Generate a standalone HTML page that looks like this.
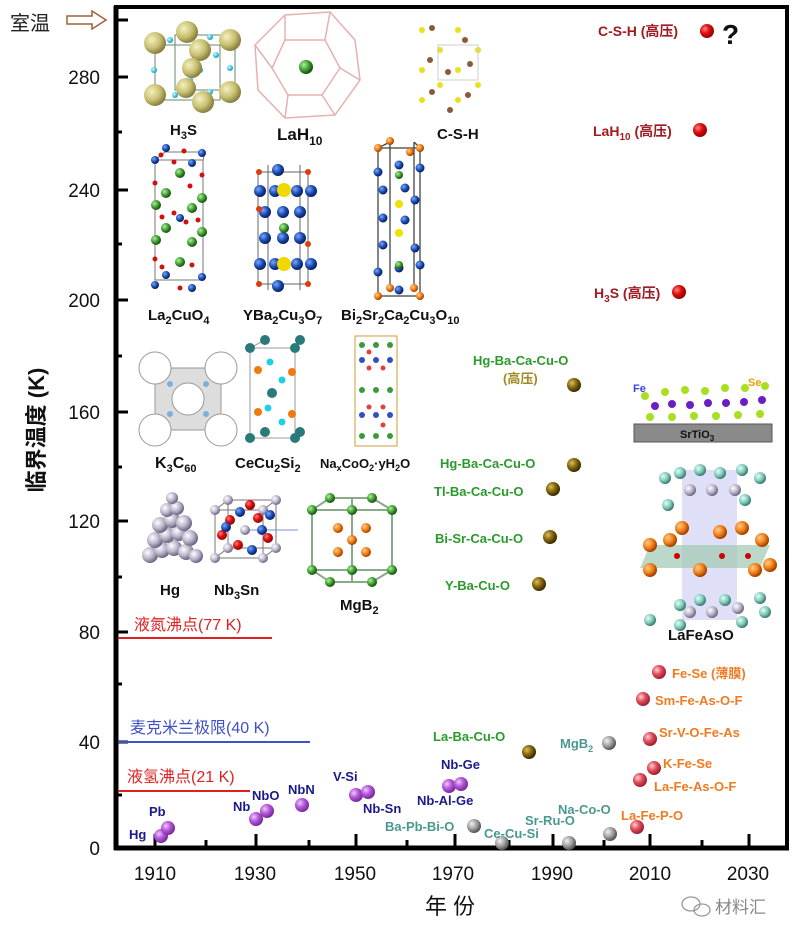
<!DOCTYPE html>
<html><head><meta charset="utf-8"><style>
html,body{margin:0;padding:0;background:#fff;width:800px;height:937px;overflow:hidden}
svg{display:block}
text{font-family:"Liberation Sans","Noto Sans CJK SC",sans-serif}
.b{font-weight:bold}
</style></head><body>
<svg width="800" height="937" viewBox="0 0 800 937" xmlns="http://www.w3.org/2000/svg">
<defs>
<radialGradient id="pu" cx="35%" cy="35%" r="65%"><stop offset="0" stop-color="#f0c8ff"/><stop offset="0.5" stop-color="#b55ad8"/><stop offset="1" stop-color="#7a2aa0"/></radialGradient>
<radialGradient id="go" cx="35%" cy="35%" r="65%"><stop offset="0" stop-color="#d9c060"/><stop offset="0.5" stop-color="#8a6a10"/><stop offset="1" stop-color="#3a2a00"/></radialGradient>
<radialGradient id="gr" cx="35%" cy="35%" r="65%"><stop offset="0" stop-color="#f2f2f2"/><stop offset="0.6" stop-color="#9a9a9a"/><stop offset="1" stop-color="#555"/></radialGradient>
<radialGradient id="pk" cx="35%" cy="35%" r="65%"><stop offset="0" stop-color="#ffd0d0"/><stop offset="0.5" stop-color="#e05060"/><stop offset="1" stop-color="#a02030"/></radialGradient>
<radialGradient id="rd" cx="35%" cy="35%" r="65%"><stop offset="0" stop-color="#ff8080"/><stop offset="0.5" stop-color="#dd1010"/><stop offset="1" stop-color="#900"/></radialGradient>
<radialGradient id="ye" cx="35%" cy="35%" r="65%"><stop offset="0" stop-color="#f4f0c0"/><stop offset="0.6" stop-color="#c8c070"/><stop offset="1" stop-color="#8a8040"/></radialGradient>
<radialGradient id="bl" cx="35%" cy="35%" r="65%"><stop offset="0" stop-color="#7aa8ff"/><stop offset="0.6" stop-color="#1a4ab0"/><stop offset="1" stop-color="#0a2060"/></radialGradient>
<radialGradient id="gn" cx="35%" cy="35%" r="65%"><stop offset="0" stop-color="#b0f0a0"/><stop offset="0.6" stop-color="#3a9a2a"/><stop offset="1" stop-color="#1a5010"/></radialGradient>
<radialGradient id="or" cx="35%" cy="35%" r="65%"><stop offset="0" stop-color="#ffd090"/><stop offset="0.6" stop-color="#f07a10"/><stop offset="1" stop-color="#a04000"/></radialGradient>
<radialGradient id="tl" cx="35%" cy="35%" r="65%"><stop offset="0" stop-color="#e0fff8"/><stop offset="0.6" stop-color="#80c8b8"/><stop offset="1" stop-color="#3a7a70"/></radialGradient>
<radialGradient id="cy" cx="35%" cy="35%" r="65%"><stop offset="0" stop-color="#c0ffff"/><stop offset="1" stop-color="#10a0c8"/></radialGradient>
<radialGradient id="sv" cx="35%" cy="35%" r="65%"><stop offset="0" stop-color="#ffffff"/><stop offset="0.6" stop-color="#b8b0c8"/><stop offset="1" stop-color="#706880"/></radialGradient>
</defs>

<!-- frame -->
<line x1="116" y1="6" x2="116" y2="850" stroke="#000" stroke-width="5"/>
<line x1="114" y1="848" x2="789" y2="848" stroke="#000" stroke-width="5"/>
<line x1="114" y1="7" x2="789" y2="7" stroke="#000" stroke-width="4"/>
<line x1="787" y1="6" x2="787" y2="850" stroke="#000" stroke-width="4"/>

<!-- y ticks -->
<g stroke="#000" stroke-width="3">
<line x1="116" y1="20" x2="128" y2="20"/><line x1="116" y1="77" x2="128" y2="77"/><line x1="116" y1="132" x2="122" y2="132"/>
<line x1="116" y1="190" x2="128" y2="190"/><line x1="116" y1="244" x2="122" y2="244"/><line x1="116" y1="300" x2="128" y2="300"/>
<line x1="116" y1="356" x2="122" y2="356"/><line x1="116" y1="412" x2="128" y2="412"/><line x1="116" y1="467" x2="122" y2="467"/>
<line x1="116" y1="521" x2="128" y2="521"/><line x1="116" y1="577" x2="122" y2="577"/><line x1="116" y1="632" x2="128" y2="632"/>
<line x1="116" y1="684" x2="122" y2="684"/><line x1="116" y1="742" x2="128" y2="742"/><line x1="116" y1="795" x2="122" y2="795"/>
<!-- x ticks -->
<line x1="155" y1="848" x2="155" y2="834"/><line x1="206" y1="848" x2="206" y2="840"/><line x1="256" y1="848" x2="256" y2="834"/>
<line x1="309" y1="848" x2="309" y2="840"/><line x1="356" y1="848" x2="356" y2="834"/><line x1="407" y1="848" x2="407" y2="840"/>
<line x1="455" y1="848" x2="455" y2="834"/><line x1="509" y1="848" x2="509" y2="840"/><line x1="553" y1="848" x2="553" y2="834"/>
<line x1="604" y1="848" x2="604" y2="840"/><line x1="650" y1="848" x2="650" y2="834"/><line x1="702" y1="848" x2="702" y2="840"/>
<line x1="749" y1="848" x2="749" y2="834"/>
</g>
<g font-size="19" fill="#111" text-anchor="end">
<text x="100" y="84">280</text><text x="100" y="197">240</text><text x="100" y="307">200</text>
<text x="100" y="419">160</text><text x="100" y="528">120</text><text x="100" y="639">80</text>
<text x="100" y="749">40</text><text x="100" y="855">0</text>
</g>
<g font-size="19" fill="#111" text-anchor="middle">
<text x="155" y="880">1910</text><text x="255" y="880">1930</text><text x="355" y="880">1950</text>
<text x="453" y="880">1970</text><text x="552" y="880">1990</text><text x="650" y="880">2010</text><text x="748" y="880">2030</text>
</g>
<text x="450" y="914" font-size="22" text-anchor="middle" fill="#111">年 份</text>
<text transform="translate(44,430) rotate(-90)" font-size="22" text-anchor="middle" fill="#111" class="b">临界温度 (K)</text>
<text x="10" y="30" font-size="20" fill="#222">室温</text>
<path d="M67 16 H92 V11 L106 20 L92 29 V24 H67 Z" fill="none" stroke="#a0603a" stroke-width="1.5"/>

<!-- reference lines -->
<line x1="118" y1="638" x2="272" y2="638" stroke="#e02020" stroke-width="2"/>
<text x="134" y="630" font-size="16" fill="#e02020">液氮沸点(77 K)</text>
<line x1="118" y1="742" x2="310" y2="742" stroke="#4050c8" stroke-width="2"/>
<text x="130" y="733" font-size="16" fill="#4050c8">麦克米兰极限(40 K)</text>
<line x1="118" y1="791" x2="250" y2="791" stroke="#e02020" stroke-width="2"/>
<text x="127" y="782" font-size="16" fill="#e02020">液氢沸点(21 K)</text>

<!-- points -->
<g>
<circle cx="161" cy="836" r="7" fill="url(#pu)"/><circle cx="168" cy="828" r="7" fill="url(#pu)"/>
<circle cx="256" cy="819" r="7" fill="url(#pu)"/><circle cx="267" cy="811" r="7" fill="url(#pu)"/>
<circle cx="302" cy="805" r="7" fill="url(#pu)"/>
<circle cx="356" cy="795" r="7" fill="url(#pu)"/><circle cx="368" cy="792" r="7" fill="url(#pu)"/>
<circle cx="449" cy="786" r="7" fill="url(#pu)"/><circle cx="461" cy="784" r="7" fill="url(#pu)"/>
<circle cx="474" cy="826" r="7" fill="url(#gr)"/><circle cx="502" cy="843" r="7" fill="url(#gr)"/>
<circle cx="569" cy="843" r="7" fill="url(#gr)"/><circle cx="610" cy="834" r="7" fill="url(#gr)"/>
<circle cx="609" cy="743" r="7" fill="url(#gr)"/>
<circle cx="529" cy="752" r="7" fill="url(#go)"/>
<circle cx="539" cy="584" r="7" fill="url(#go)"/><circle cx="550" cy="537" r="7" fill="url(#go)"/>
<circle cx="553" cy="489" r="7" fill="url(#go)"/><circle cx="574" cy="465" r="7" fill="url(#go)"/>
<circle cx="574" cy="385" r="7" fill="url(#go)"/>
<circle cx="637" cy="827" r="7" fill="url(#pk)"/><circle cx="640" cy="780" r="7" fill="url(#pk)"/>
<circle cx="654" cy="768" r="7" fill="url(#pk)"/><circle cx="650" cy="739" r="7" fill="url(#pk)"/>
<circle cx="643" cy="699" r="7" fill="url(#pk)"/><circle cx="659" cy="672" r="7" fill="url(#pk)"/>
<circle cx="679" cy="292" r="7" fill="url(#rd)"/><circle cx="700" cy="130" r="7" fill="url(#rd)"/>
<circle cx="707" cy="31" r="7" fill="url(#rd)"/>
</g>

<!-- point labels -->
<g font-size="13" class="b" fill="#1a1a8a">
<text x="129" y="839">Hg</text><text x="149" y="816">Pb</text>
<text x="233" y="811">Nb</text><text x="252" y="800">NbO</text><text x="288" y="794">NbN</text>
<text x="333" y="781">V-Si</text><text x="363" y="813">Nb-Sn</text>
<text x="441" y="769">Nb-Ge</text><text x="417" y="805">Nb-Al-Ge</text>
</g>
<g font-size="13" class="b" fill="#4a9890">
<text x="385" y="831">Ba-Pb-Bi-O</text><text x="484" y="838">Ce-Cu-Si</text>
<text x="525" y="825">Sr-Ru-O</text><text x="558" y="814">Na-Co-O</text>
<text x="560" y="748">MgB<tspan font-size="9" dy="4">2</tspan></text>
</g>
<g font-size="13" class="b" fill="#2a9a2a">
<text x="433" y="741">La-Ba-Cu-O</text>
<text x="445" y="590">Y-Ba-Cu-O</text><text x="435" y="543">Bi-Sr-Ca-Cu-O</text>
<text x="434" y="496">Tl-Ba-Ca-Cu-O</text><text x="440" y="468">Hg-Ba-Ca-Cu-O</text>
<text x="473" y="365">Hg-Ba-Ca-Cu-O</text>
</g>
<text x="503" y="383" font-size="13" class="b" fill="#a08a20">(高压)</text>
<g font-size="13" class="b" fill="#f07a20">
<text x="621" y="820">La-Fe-P-O</text><text x="654" y="791">La-Fe-As-O-F</text>
<text x="663" y="768">K-Fe-Se</text><text x="659" y="737">Sr-V-O-Fe-As</text>
<text x="655" y="705">Sm-Fe-As-O-F</text><text x="672" y="678">Fe-Se (薄膜)</text>
</g>
<g font-size="14" class="b" fill="#a01a20">
<text x="594" y="298">H<tspan font-size="10" dy="4">3</tspan><tspan dy="-4">S (高压)</tspan></text>
<text x="593" y="136">LaH<tspan font-size="10" dy="4">10</tspan><tspan dy="-4"> (高压)</tspan></text>
<text x="598" y="36">C-S-H (高压)</text>
</g>
<text x="722" y="44" font-size="28" class="b" fill="#111">?</text>

<!-- H3S structure -->
<g stroke="#6a8a6a" stroke-width="1" fill="none"><rect x="155" y="45" width="65" height="55"/><rect x="175" y="35" width="60" height="55"/></g>
<g fill="url(#cy)">
<circle cx="170" cy="40" r="3"/><circle cx="210" cy="37" r="3"/><circle cx="154" cy="70" r="3"/><circle cx="186" cy="65" r="3"/><circle cx="200" cy="70" r="3"/><circle cx="230" cy="68" r="3"/><circle cx="175" cy="95" r="3"/><circle cx="210" cy="92" r="3"/><circle cx="190" cy="80" r="3"/><circle cx="216" cy="55" r="3"/>
</g>
<g fill="url(#ye)">
<circle cx="155" cy="43" r="11"/><circle cx="187" cy="32" r="11"/><circle cx="230" cy="40" r="11"/><circle cx="200" cy="50" r="11"/><circle cx="192" cy="68" r="10"/><circle cx="155" cy="95" r="11"/><circle cx="186" cy="88" r="10"/><circle cx="230" cy="92" r="11"/><circle cx="203" cy="102" r="11"/>
</g>
<text x="170" y="135" font-size="15" class="b" fill="#111">H<tspan font-size="11" dy="4">3</tspan><tspan dy="-4">S</tspan></text>

<!-- LaH10 -->
<g stroke="#e8b0b0" stroke-width="1.5" fill="none">
<polygon points="285,15 330,12 355,40 360,80 335,115 285,118 258,90 255,45"/>
<polygon points="285,40 325,40 340,68 322,95 288,95 272,68"/>
<line x1="285" y1="15" x2="285" y2="40"/><line x1="330" y1="12" x2="325" y2="40"/><line x1="360" y1="80" x2="340" y2="68"/><line x1="255" y1="45" x2="272" y2="68"/><line x1="285" y1="118" x2="288" y2="95"/><line x1="335" y1="115" x2="322" y2="95"/>
</g>
<circle cx="306" cy="67" r="7" fill="url(#gn)"/>
<text x="277" y="140" font-size="17" class="b" fill="#111">LaH<tspan font-size="12" dy="5">10</tspan></text>

<!-- C-S-H -->
<g fill="#e8e020"><circle cx="422" cy="30" r="3"/><circle cx="440" cy="50" r="3"/><circle cx="458" cy="30" r="3"/><circle cx="478" cy="50" r="3"/><circle cx="422" cy="70" r="3"/><circle cx="440" cy="85" r="3"/><circle cx="458" cy="70" r="3"/><circle cx="478" cy="85" r="3"/><circle cx="422" cy="100" r="3"/><circle cx="458" cy="100" r="3"/></g>
<g fill="#8a5a3a"><circle cx="432" cy="28" r="3"/><circle cx="465" cy="40" r="3"/><circle cx="430" cy="60" r="3"/><circle cx="470" cy="64" r="3"/><circle cx="448" cy="72" r="3"/><circle cx="432" cy="92" r="3"/><circle cx="468" cy="95" r="3"/><circle cx="450" cy="110" r="3"/></g>
<rect x="438" y="45" width="40" height="35" fill="none" stroke="#ccc"/>
<text x="437" y="139" font-size="15" class="b" fill="#111">C-S-H</text>

<!-- La2CuO4 -->
<g stroke="#777" fill="none"><rect x="155" y="160" width="48" height="120"/><line x1="155" y1="160" x2="165" y2="152"/><line x1="203" y1="160" x2="205" y2="152"/><line x1="165" y1="152" x2="205" y2="152"/></g>
<g fill="url(#bl)"><circle cx="155" cy="160" r="4"/><circle cx="192" cy="163" r="4"/><circle cx="166" cy="148" r="4"/><circle cx="202" cy="153" r="4"/><circle cx="180" cy="218" r="4"/><circle cx="155" cy="285" r="4"/><circle cx="192" cy="288" r="4"/><circle cx="166" cy="275" r="4"/><circle cx="202" cy="277" r="4"/></g>
<g fill="url(#gn)"><circle cx="180" cy="173" r="5"/><circle cx="166" cy="193" r="5"/><circle cx="202" cy="198" r="5"/><circle cx="156" cy="205" r="5"/><circle cx="192" cy="208" r="5"/><circle cx="166" cy="228" r="5"/><circle cx="202" cy="232" r="5"/><circle cx="156" cy="240" r="5"/><circle cx="192" cy="242" r="5"/><circle cx="180" cy="262" r="5"/></g>
<g fill="#d01010"><circle cx="161" cy="155" r="2.5"/><circle cx="184" cy="151" r="2.5"/><circle cx="174" cy="162" r="2.5"/><circle cx="202" cy="175" r="2.5"/><circle cx="155" cy="183" r="2.5"/><circle cx="190" cy="186" r="2.5"/><circle cx="174" cy="213" r="2.5"/><circle cx="186" cy="222" r="2.5"/><circle cx="198" cy="220" r="2.5"/><circle cx="162" cy="217" r="2.5"/><circle cx="155" cy="259" r="2.5"/><circle cx="192" cy="265" r="2.5"/><circle cx="162" cy="267" r="2.5"/><circle cx="180" cy="288" r="2.5"/></g>
<text x="148" y="320" font-size="15" class="b" fill="#111">La<tspan font-size="11" dy="4">2</tspan><tspan dy="-4">CuO</tspan><tspan font-size="11" dy="4">4</tspan></text>

<!-- YBCO -->
<g stroke="#666" fill="none"><rect x="258" y="172" width="50" height="112"/><line x1="268" y1="165" x2="268" y2="290"/><line x1="300" y1="165" x2="300" y2="290"/></g>
<g fill="url(#bl)">
<circle cx="260" cy="191" r="6"/><circle cx="275" cy="191" r="6"/><circle cx="297" cy="191" r="6"/><circle cx="311" cy="191" r="6"/><circle cx="278" cy="170" r="6"/>
<circle cx="265" cy="212" r="6"/><circle cx="283" cy="212" r="6"/><circle cx="300" cy="212" r="6"/>
<circle cx="265" cy="238" r="6"/><circle cx="283" cy="238" r="6"/><circle cx="300" cy="238" r="6"/>
<circle cx="260" cy="264" r="6"/><circle cx="275" cy="264" r="6"/><circle cx="297" cy="264" r="6"/><circle cx="311" cy="264" r="6"/><circle cx="278" cy="286" r="6"/>
</g>
<circle cx="284" cy="190" r="7" fill="url(#ye)" style="fill:#f0d800"/><circle cx="284" cy="264" r="7" fill="#f0d800"/><circle cx="284" cy="228" r="5" fill="url(#gn)"/>
<g fill="#e03a10"><circle cx="259" cy="172" r="3"/><circle cx="308" cy="172" r="3"/><circle cx="259" cy="284" r="3"/><circle cx="308" cy="284" r="3"/><circle cx="259" cy="209" r="3"/><circle cx="308" cy="244" r="3"/></g>
<text x="243" y="320" font-size="15" class="b" fill="#111">YBa<tspan font-size="11" dy="4">2</tspan><tspan dy="-4">Cu</tspan><tspan font-size="11" dy="4">3</tspan><tspan dy="-4">O</tspan><tspan font-size="11" dy="4">7</tspan></text>

<!-- Bi2212 -->
<g stroke="#444" stroke-width="1.3" fill="none"><rect x="378" y="148" width="42" height="148"/><line x1="390" y1="142" x2="390" y2="290"/><line x1="414" y1="142" x2="414" y2="290"/><line x1="378" y1="148" x2="390" y2="142"/><line x1="420" y1="148" x2="414" y2="142"/></g>
<g fill="url(#bl)"><circle cx="378" cy="172" r="4.5"/><circle cx="399" cy="165" r="4.5"/><circle cx="420" cy="168" r="4.5"/><circle cx="383" cy="190" r="4.5"/><circle cx="405" cy="188" r="4.5"/><circle cx="415" cy="200" r="4.5"/><circle cx="383" cy="218" r="4.5"/><circle cx="405" cy="220" r="4.5"/><circle cx="383" cy="245" r="4.5"/><circle cx="415" cy="248" r="4.5"/><circle cx="378" cy="272" r="4.5"/><circle cx="399" cy="268" r="4.5"/><circle cx="420" cy="265" r="4.5"/><circle cx="399" cy="290" r="4.5"/></g>
<g fill="url(#or)"><circle cx="378" cy="148" r="4"/><circle cx="390" cy="141" r="4"/><circle cx="420" cy="148" r="4"/><circle cx="410" cy="152" r="4"/><circle cx="378" cy="296" r="4"/><circle cx="420" cy="296" r="4"/><circle cx="390" cy="288" r="4"/><circle cx="414" cy="288" r="4"/></g>
<circle cx="399" cy="175" r="4" fill="url(#gn)"/><circle cx="399" cy="204" r="4" fill="#f0e000"/><circle cx="399" cy="233" r="4" fill="#f0e000"/><circle cx="399" cy="265" r="4" fill="url(#gn)"/>
<text x="341" y="320" font-size="15" class="b" fill="#111">Bi<tspan font-size="11" dy="4">2</tspan><tspan dy="-4">Sr</tspan><tspan font-size="11" dy="4">2</tspan><tspan dy="-4">Ca</tspan><tspan font-size="11" dy="4">2</tspan><tspan dy="-4">Cu</tspan><tspan font-size="11" dy="4">3</tspan><tspan dy="-4">O</tspan><tspan font-size="11" dy="4">10</tspan></text>

<!-- K3C60 -->
<rect x="155" y="368" width="66" height="62" fill="#ddd" stroke="#999"/>
<g fill="#fff" stroke="#999"><circle cx="155" cy="368" r="16"/><circle cx="221" cy="368" r="16"/><circle cx="155" cy="430" r="16"/><circle cx="221" cy="430" r="16"/><circle cx="188" cy="399" r="16"/></g>
<g fill="#7ab0e0"><circle cx="170" cy="384" r="3"/><circle cx="206" cy="384" r="3"/><circle cx="170" cy="414" r="3"/><circle cx="206" cy="414" r="3"/></g>
<text x="155" y="468" font-size="16" class="b" fill="#111">K<tspan font-size="11" dy="4">3</tspan><tspan dy="-4">C</tspan><tspan font-size="11" dy="4">60</tspan></text>

<!-- CeCu2Si2 -->
<g stroke="#999" fill="none"><rect x="250" y="348" width="45" height="90"/><line x1="250" y1="348" x2="265" y2="340"/><line x1="295" y1="348" x2="300" y2="340"/></g>
<g fill="#2a7a7a"><circle cx="250" cy="348" r="5"/><circle cx="295" cy="348" r="5"/><circle cx="265" cy="340" r="5"/><circle cx="300" cy="340" r="5"/><circle cx="272" cy="393" r="5"/><circle cx="250" cy="438" r="5"/><circle cx="295" cy="438" r="5"/><circle cx="265" cy="432" r="5"/><circle cx="300" cy="432" r="5"/></g>
<g fill="#f07a10"><circle cx="258" cy="370" r="4"/><circle cx="292" cy="372" r="4"/><circle cx="258" cy="412" r="4"/><circle cx="292" cy="414" r="4"/></g>
<g fill="#20d0e0"><circle cx="270" cy="362" r="3.5"/><circle cx="282" cy="380" r="3.5"/><circle cx="268" cy="408" r="3.5"/><circle cx="282" cy="422" r="3.5"/></g>
<text x="235" y="468" font-size="15" class="b" fill="#111">CeCu<tspan font-size="11" dy="4">2</tspan><tspan dy="-4">Si</tspan><tspan font-size="11" dy="4">2</tspan></text>

<!-- NaxCoO2 -->
<g stroke="#c8a030" fill="none"><rect x="355" y="336" width="42" height="110"/></g>
<g fill="#3a9a3a"><circle cx="362" cy="345" r="3"/><circle cx="376" cy="345" r="3"/><circle cx="390" cy="345" r="3"/><circle cx="362" cy="390" r="3"/><circle cx="376" cy="390" r="3"/><circle cx="390" cy="390" r="3"/><circle cx="362" cy="436" r="3"/><circle cx="376" cy="436" r="3"/><circle cx="390" cy="436" r="3"/></g>
<g fill="#3050c0"><circle cx="362" cy="360" r="3"/><circle cx="376" cy="360" r="3"/><circle cx="390" cy="360" r="3"/><circle cx="362" cy="415" r="3"/><circle cx="376" cy="415" r="3"/><circle cx="390" cy="415" r="3"/></g>
<g fill="#e04040"><circle cx="369" cy="368" r="2.5"/><circle cx="383" cy="368" r="2.5"/><circle cx="369" cy="407" r="2.5"/><circle cx="383" cy="407" r="2.5"/><circle cx="369" cy="352" r="2.5"/><circle cx="383" cy="425" r="2.5"/></g>
<text x="320" y="468" font-size="13" class="b" fill="#111">Na<tspan font-size="9" dy="3">x</tspan><tspan dy="-3">CoO</tspan><tspan font-size="9" dy="3">2</tspan><tspan dy="-3">·yH</tspan><tspan font-size="9" dy="3">2</tspan><tspan dy="-3">O</tspan></text>

<!-- Hg -->
<g fill="url(#sv)">
<circle cx="150" cy="555" r="8"/><circle cx="162" cy="550" r="8"/><circle cx="174" cy="548" r="8"/><circle cx="186" cy="552" r="8"/><circle cx="196" cy="556" r="7"/>
<circle cx="155" cy="540" r="8"/><circle cx="167" cy="535" r="8"/><circle cx="179" cy="533" r="8"/><circle cx="190" cy="538" r="8"/>
<circle cx="160" cy="525" r="8"/><circle cx="172" cy="520" r="8"/><circle cx="184" cy="523" r="8"/>
<circle cx="167" cy="510" r="7"/><circle cx="177" cy="508" r="7"/><circle cx="172" cy="498" r="6"/>
</g>
<text x="160" y="595" font-size="15" class="b" fill="#111">Hg</text>

<!-- Nb3Sn -->
<g stroke="#777" fill="none"><rect x="215" y="510" width="48" height="48"/><rect x="228" y="500" width="48" height="48"/><line x1="215" y1="510" x2="228" y2="500"/><line x1="263" y1="510" x2="276" y2="500"/><line x1="215" y1="558" x2="228" y2="548"/><line x1="263" y1="558" x2="276" y2="548"/><line x1="240" y1="530" x2="298" y2="530" stroke="#7a90d0"/></g>
<g fill="url(#sv)"><circle cx="215" cy="510" r="5"/><circle cx="263" cy="510" r="5"/><circle cx="228" cy="500" r="5"/><circle cx="276" cy="500" r="5"/><circle cx="215" cy="558" r="5"/><circle cx="263" cy="558" r="5"/><circle cx="228" cy="548" r="5"/><circle cx="276" cy="548" r="5"/><circle cx="245" cy="530" r="5"/></g>
<g fill="url(#rd)"><circle cx="230" cy="520" r="5"/><circle cx="258" cy="518" r="5"/><circle cx="238" cy="545" r="5"/><circle cx="268" cy="538" r="5"/><circle cx="222" cy="535" r="5"/><circle cx="250" cy="505" r="5"/></g>
<g fill="url(#bl)"><circle cx="240" cy="512" r="5"/><circle cx="262" cy="530" r="5"/><circle cx="226" cy="527" r="5"/><circle cx="252" cy="550" r="5"/><circle cx="270" cy="515" r="5"/></g>
<text x="214" y="595" font-size="15" class="b" fill="#111">Nb<tspan font-size="11" dy="4">3</tspan><tspan dy="-4">Sn</tspan></text>

<!-- MgB2 -->
<g stroke="#8aa88a" stroke-width="2" fill="none">
<polygon points="312,510 330,498 372,498 392,510 392,570 372,582 330,582 312,570"/>
<line x1="312" y1="510" x2="392" y2="510"/><line x1="312" y1="570" x2="392" y2="570"/><line x1="352" y1="498" x2="352" y2="582"/>
</g>
<g fill="url(#gn)"><circle cx="312" cy="510" r="5"/><circle cx="330" cy="498" r="5"/><circle cx="372" cy="498" r="5"/><circle cx="392" cy="510" r="5"/><circle cx="312" cy="570" r="5"/><circle cx="330" cy="582" r="5"/><circle cx="372" cy="582" r="5"/><circle cx="392" cy="570" r="5"/><circle cx="352" cy="510" r="5"/><circle cx="352" cy="570" r="5"/></g>
<g fill="url(#or)"><circle cx="338" cy="528" r="5"/><circle cx="366" cy="528" r="5"/><circle cx="352" cy="540" r="5"/><circle cx="338" cy="552" r="5"/><circle cx="366" cy="552" r="5"/></g>
<text x="340" y="610" font-size="15" class="b" fill="#111">MgB<tspan font-size="11" dy="4">2</tspan></text>

<!-- FeSe / SrTiO3 -->
<rect x="634" y="424" width="138" height="18" fill="#8a8a8a" stroke="#555"/>
<text x="680" y="438" font-size="11" class="b" fill="#111">SrTiO<tspan font-size="8" dy="3">3</tspan></text>
<g fill="#a8e020"><circle cx="645" cy="396" r="4"/><circle cx="665" cy="392" r="4"/><circle cx="685" cy="390" r="4"/><circle cx="705" cy="391" r="4"/><circle cx="725" cy="388" r="4"/><circle cx="745" cy="388" r="4"/><circle cx="765" cy="386" r="4"/><circle cx="650" cy="417" r="4"/><circle cx="672" cy="417" r="4"/><circle cx="694" cy="416" r="4"/><circle cx="716" cy="416" r="4"/><circle cx="738" cy="415" r="4"/><circle cx="760" cy="414" r="4"/></g>
<g fill="#6a20c0"><circle cx="655" cy="406" r="4"/><circle cx="672" cy="404" r="4"/><circle cx="690" cy="405" r="4"/><circle cx="708" cy="403" r="4"/><circle cx="726" cy="403" r="4"/><circle cx="744" cy="402" r="4"/><circle cx="762" cy="400" r="4"/></g>
<text x="633" y="392" font-size="11" class="b" fill="#4040e0">Fe</text>
<text x="748" y="386" font-size="11" class="b" fill="#f0a000">Se</text>

<!-- LaFeAsO -->
<rect x="682" y="470" width="55" height="150" fill="#b8b8f0" opacity="0.45"/>
<polygon points="650,545 770,545 760,568 640,568" fill="#a0c8b0" opacity="0.7"/>
<g fill="url(#tl)"><circle cx="665" cy="478" r="6"/><circle cx="680" cy="473" r="6"/><circle cx="700" cy="470" r="6"/><circle cx="720" cy="473" r="6"/><circle cx="742" cy="470" r="6"/><circle cx="760" cy="478" r="6"/><circle cx="745" cy="500" r="6"/><circle cx="668" cy="505" r="6"/><circle cx="760" cy="598" r="6"/><circle cx="680" cy="605" r="6"/><circle cx="700" cy="600" r="6"/><circle cx="725" cy="600" r="6"/><circle cx="650" cy="620" r="6"/><circle cx="680" cy="625" r="6"/><circle cx="742" cy="622" r="6"/><circle cx="765" cy="612" r="6"/></g>
<g fill="url(#sv)"><circle cx="690" cy="490" r="6"/><circle cx="712" cy="490" r="6"/><circle cx="735" cy="490" r="6"/><circle cx="690" cy="612" r="6"/><circle cx="712" cy="612" r="6"/><circle cx="738" cy="608" r="6"/></g>
<g fill="url(#or)"><circle cx="650" cy="545" r="7"/><circle cx="670" cy="540" r="7"/><circle cx="682" cy="528" r="7"/><circle cx="720" cy="532" r="7"/><circle cx="742" cy="528" r="7"/><circle cx="762" cy="540" r="7"/><circle cx="650" cy="570" r="7"/><circle cx="700" cy="570" r="7"/><circle cx="755" cy="570" r="7"/><circle cx="770" cy="565" r="7"/></g>
<g fill="#c00"><circle cx="677" cy="556" r="3"/><circle cx="722" cy="556" r="3"/><circle cx="748" cy="556" r="3"/></g>
<text x="668" y="640" font-size="15" class="b" fill="#111">LaFeAsO</text>

<!-- watermark -->
<g stroke="#999" fill="none" stroke-width="1.3"><ellipse cx="691" cy="904" rx="9" ry="7"/><ellipse cx="702" cy="910" rx="8" ry="6"/></g>
<text x="715" y="913" font-size="17" fill="#888">材料汇</text>
</svg>
</body></html>
